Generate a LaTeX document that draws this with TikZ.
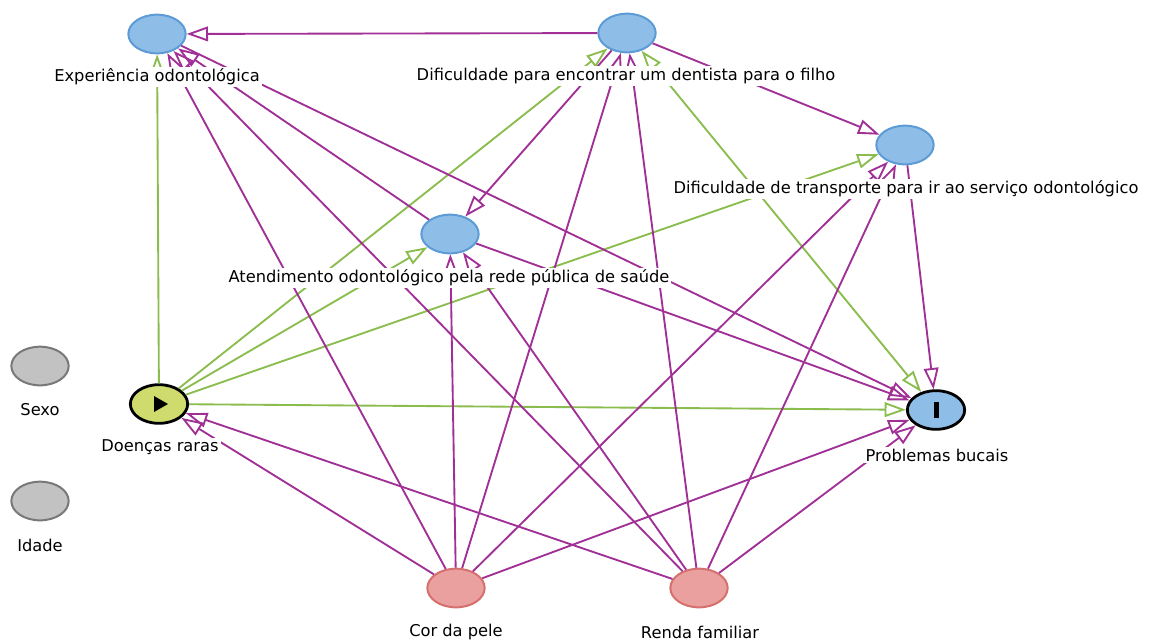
\documentclass[tikz,border=0pt]{standalone}
\usepackage{fontspec}
\setmainfont{DejaVu Sans}
\usetikzlibrary{arrows.meta,shapes.geometric}

\definecolor{nodeblue}{RGB}{142,189,232}
\definecolor{nodeblueline}{RGB}{92,155,213}
\definecolor{expgreen}{RGB}{208,219,110}
\definecolor{ancred}{RGB}{234,160,158}
\definecolor{ancredline}{RGB}{214,112,110}
\definecolor{adjgray}{RGB}{194,194,194}
\definecolor{adjgrayline}{RGB}{120,120,120}
\definecolor{biaspath}{RGB}{160,48,150}
\definecolor{causalpath}{RGB}{138,188,78}

\tikzset{every picture/.style={line width=0.75pt}}
\tikzset{
  var/.style={ellipse, minimum width=43pt, minimum height=29pt, inner sep=0pt, line width=1.5pt},
  other/.style={var, fill=nodeblue, draw=nodeblueline},
  exposure/.style={var, fill=expgreen, draw=black, line width=2.1pt},
  outcome/.style={var, fill=nodeblue, draw=black, line width=2.1pt},
  ancestor/.style={var, fill=ancred, draw=ancredline},
  unobs/.style={var, fill=adjgray, draw=adjgrayline},
  varlabel/.style={fill=white, inner sep=1.5pt, font=\fontsize{12.2}{14}\selectfont},
  biased/.style={draw=biaspath, line width=1.4pt, -{Triangle[open, length=16pt, width=11pt]}},
  causal/.style={draw=causalpath, line width=1.4pt, -{Triangle[open, length=16pt, width=11pt]}},
  causalboth/.style={draw=causalpath, line width=1.4pt, {Triangle[open, length=16pt, width=11pt]}-{Triangle[open, length=16pt, width=11pt]}}
}

\begin{document}
\begin{tikzpicture}[x=0.75pt,y=0.75pt,yscale=-1,xscale=1]
\useasboundingbox (0,0) rectangle (1155,643);

% Variables
\node [other] (exp) at (157,34) {};
\node [other] (dif) at (627,33) {};
\node [other] (trans) at (905,145) {};
\node [other] (atend) at (450,234) {};
\node [unobs] (sexo) at (40,366) {};
\node [unobs] (idade) at (40,501) {};
\node [exposure] (doen) at (159,404) {};
\node [outcome] (prob) at (936,410) {};
\node [ancestor] (cor) at (456,588) {};
\node [ancestor] (renda) at (699,588) {};

% exposure / outcome marks
\fill (doen.center) ++(-5,-8) -- ++(14,8) -- ++(-14,8) -- cycle;
\fill (prob.center) ++(-2.5,-8) rectangle ++(5,16);

% Causal paths
\draw [causal] (doen) -- (exp);
\draw [causal] (doen) -- (dif);
\draw [causal] (doen) -- (atend);
\draw [causal] (doen) -- (trans);
\draw [causal] (doen) -- (prob);
\draw [causalboth] (dif) -- (prob);

% Biasing paths
\draw [biased] (dif) -- (exp);
\draw [biased] (dif) -- (trans);
\draw [biased] (dif) -- (atend);
\draw [biased] (atend) -- (exp);
\draw [biased] (atend) -- (prob);
\draw [biased] (exp) -- (prob);
\draw [biased] (trans) -- (prob);
\draw [biased] (cor) -- (doen);
\draw [biased] (cor) -- (exp);
\draw [biased] (cor) -- (atend);
\draw [biased] (cor) -- (dif);
\draw [biased] (cor) -- (trans);
\draw [biased] (cor) -- (prob);
\draw [biased] (renda) -- (doen);
\draw [biased] (renda) -- (exp);
\draw [biased] (renda) -- (atend);
\draw [biased] (renda) -- (dif);
\draw [biased] (renda) -- (trans);
\draw [biased] (renda) -- (prob);

% Text Node
\node [varlabel] (exptxt) at (157,77) {Experiência odontológica};
\node [varlabel] (diftxt) at (626,76) {Dificuldade para encontrar um dentista para o filho};
\node [varlabel] (transtxt) at (906,189) {Dificuldade de transporte para ir ao serviço odontológico};
\node [varlabel] (atendtxt) at (449,278) {Atendimento odontológico pela rede pública de saúde};
\node [varlabel] (sexotxt) at (40,410) {Sexo};
\node [varlabel] (idadetxt) at (40,545) {Idade};
\node [varlabel] (doentxt) at (160,447) {Doenças raras};
\node [varlabel] (probtxt) at (937,455) {Problemas bucais};
\node [varlabel] (cortxt) at (456,632) {Cor da pele};
\node [varlabel] (rendatxt) at (700,632) {Renda familiar};

\end{tikzpicture}
\end{document}
